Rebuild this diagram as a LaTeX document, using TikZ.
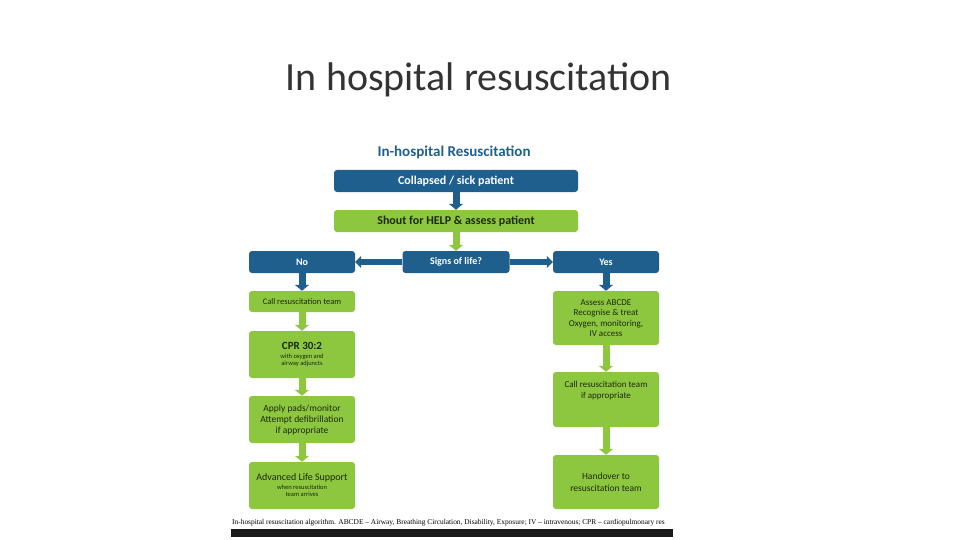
\documentclass[tikz,border=0pt]{standalone}
\usepackage{fontspec}
\setmainfont{Carlito}
\usetikzlibrary{arrows.meta}
\definecolor{dblue}{HTML}{1F5F8E}
\definecolor{lgreen}{HTML}{8DC63F}
\definecolor{tgreen}{HTML}{1E2A10}
\begin{document}
\begin{tikzpicture}[x=1pt,y=-1pt,
 box/.style={rounded corners=3pt,inner sep=1pt,align=center,font=\fontsize{8.5}{9.5}\selectfont},
 bb/.style={box,fill=dblue,text=white,font=\bfseries\fontsize{10}{11}\selectfont},
 gb/.style={box,fill=lgreen,text=tgreen},
 barrow/.style={line width=7pt,-{Triangle[width=14pt,length=6pt]},shorten >=0pt},
 ]
\useasboundingbox (0,0) rectangle (960,540);
\node[font=\fontsize{40}{44}\selectfont,color=black!80] (title) at (479,80) {In hospital resuscitation};
\node[font=\bfseries\fontsize{15}{17}\selectfont,text=dblue] (head) at (454,152) {In-hospital Resuscitation};
\node[bb,minimum width=244,minimum height=22,font=\bfseries\fontsize{12}{13}\selectfont] (col) at (456,181) {Collapsed / sick patient};
\node[gb,minimum width=244,minimum height=22,font=\bfseries\fontsize{12}{13}\selectfont] (sh) at (456,221) {Shout for HELP \& assess patient};
\node[bb,minimum width=106,minimum height=22] (no) at (302,262) {No};
\node[bb,minimum width=107,minimum height=22] (sig) at (456,262) {Signs of life?};
\node[bb,minimum width=106,minimum height=22] (yes) at (606,262) {Yes};
\node[gb,minimum width=106,minimum height=21] (l1) at (302,301.5) {Call resuscitation team};
\node[gb,minimum width=106,minimum height=47] (l2) at (302,354.5) {{\bfseries\fontsize{11}{12}\selectfont CPR 30:2}\\[-1pt]{\fontsize{6.5}{7}\selectfont with oxygen and}\\[-2pt]{\fontsize{6.5}{7}\selectfont airway adjuncts}};
\node[gb,minimum width=106,minimum height=47,font=\fontsize{9.5}{11}\selectfont] (l3) at (302,419.5) {Apply pads/monitor\\Attempt defibrillation\\if appropriate};
\node[gb,minimum width=106,minimum height=47] (l4) at (302,485.5) {{\fontsize{10}{11}\selectfont Advanced Life Support}\\[-1pt]{\fontsize{6.5}{7}\selectfont when resuscitation}\\[-2pt]{\fontsize{6.5}{7}\selectfont team arrives}};
\node[gb,minimum width=106,minimum height=54,font=\fontsize{9}{10.5}\selectfont] (r1) at (606,318) {Assess ABCDE\\Recognise \& treat\\Oxygen, monitoring,\\IV access};
\node[gb,minimum width=106,minimum height=55,font=\fontsize{9}{11}\selectfont] (r2) at (606,399.5) {Call resuscitation team\\if appropriate\\[8pt]};
\node[gb,minimum width=106,minimum height=54,font=\fontsize{9.5}{11.5}\selectfont] (r3) at (606,482) {Handover to\\resuscitation team};
\foreach \a/\b/\c in {col/sh/dblue,sh/sig/lgreen,no/l1/dblue,yes/r1/dblue,l1/l2/lgreen,l2/l3/lgreen,l3/l4/lgreen,r1/r2/lgreen,r2/r3/lgreen}
  \draw[barrow,draw=\c] (\a.south) -- (\b.north);
\draw[line width=6pt,draw=dblue,-{Triangle[width=12pt,length=6pt]}] (sig.west) -- (no.east);
\draw[line width=6pt,draw=dblue,-{Triangle[width=12pt,length=6pt]}] (sig.east) -- (yes.west);
\node[font=\fontsize{7.4}{8}\selectfont,anchor=west,inner sep=0] (cap) at (232,523) {\fontspec{Liberation Serif}In-hospital resuscitation algorithm. ABCDE – Airway, Breathing Circulation, Disability, Exposure; IV – intravenous; CPR – cardiopulmonary res};
\fill[black!90] (231,529) rectangle (673,537);
\end{tikzpicture}
\end{document}
